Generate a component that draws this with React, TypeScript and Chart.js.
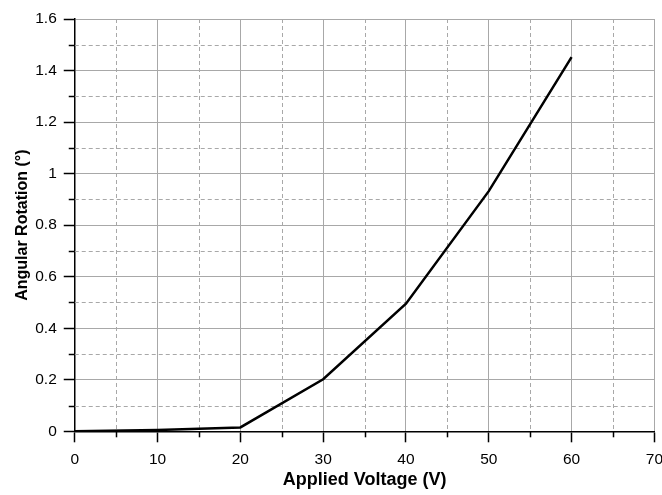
import React, { useEffect, useRef } from "react";
import { Chart, registerables } from "chart.js";

Chart.register(...registerables);

const voltages = [0, 10, 20, 30, 40, 50, 60];
const rotations = [0, 0.005, 0.015, 0.202, 0.495, 0.932, 1.452];

const xMin = 0;
const xMax = 70;
const xStep = 5;
const yMin = 0;
const yMax = 1.6;
const yStep = 0.1;

const xTitle = "Applied Voltage (V)";
const yTitle = "Angular Rotation (°)";

const FONT = "'Liberation Sans', Arial, Helvetica, sans-serif";
const GRID = "#a8a8a8";

const isMajorX = (v: number) => Math.round(v) % 10 === 0;
const isMajorY = (v: number) => Math.round(v * 10) % 2 === 0;

const minorPlugin = {
  id: "minorGrid",
  beforeDatasetsDraw(chart: any) {
    const { ctx, chartArea, scales } = chart;
    const xs = scales.x;
    const ys = scales.y;
    ctx.save();
    ctx.strokeStyle = GRID;
    ctx.lineWidth = 1;
    ctx.setLineDash([4, 3]);
    xs.ticks.forEach((t: any) => {
      if (isMajorX(t.value)) return;
      const px = Math.round(xs.getPixelForValue(t.value)) + 0.5;
      ctx.beginPath();
      ctx.moveTo(px, chartArea.top);
      ctx.lineTo(px, chartArea.bottom);
      ctx.stroke();
    });
    ys.ticks.forEach((t: any) => {
      if (isMajorY(t.value)) return;
      const py = Math.round(ys.getPixelForValue(t.value)) + 0.5;
      ctx.beginPath();
      ctx.moveTo(chartArea.left, py);
      ctx.lineTo(chartArea.right, py);
      ctx.stroke();
    });
    ctx.setLineDash([]);
    ctx.strokeStyle = "#000";
    ctx.lineWidth = 1.5;
    xs.ticks.forEach((t: any) => {
      if (isMajorX(t.value)) return;
      const px = Math.round(xs.getPixelForValue(t.value)) + 0.5;
      ctx.beginPath();
      ctx.moveTo(px, chartArea.bottom);
      ctx.lineTo(px, chartArea.bottom + 6);
      ctx.stroke();
    });
    ys.ticks.forEach((t: any) => {
      if (isMajorY(t.value)) return;
      const py = Math.round(ys.getPixelForValue(t.value)) + 0.5;
      ctx.beginPath();
      ctx.moveTo(chartArea.left - 6, py);
      ctx.lineTo(chartArea.left, py);
      ctx.stroke();
    });
    ctx.restore();
  },
};

export default function App() {
  const ref = useRef<HTMLCanvasElement>(null);
  useEffect(() => {
    if (!ref.current) return;
    const chart = new Chart(ref.current, {
      type: "line",
      data: {
        datasets: [
          {
            data: voltages.map((v, i) => ({ x: v, y: rotations[i] })),
            borderColor: "#000",
            borderWidth: 2.5,
            pointRadius: 0,
            tension: 0,
            fill: false,
          },
        ],
      },
      options: {
        animation: false,
        responsive: false,
        maintainAspectRatio: false,
        layout: { padding: { top: 19, right: 0, left: 13, bottom: 4 } },
        plugins: { legend: { display: false }, tooltip: { enabled: false } },
        scales: {
          x: {
            type: "linear",
            min: xMin,
            max: xMax,
            ticks: {
              stepSize: xStep,
              autoSkip: false,
              maxRotation: 0,
              color: "#000",
              font: { family: FONT, size: 15.5 },
              padding: 8,
              callback: (v: any) => (isMajorX(v) ? String(v) : ""),
            },
            grid: {
              color: (c: any) => (c.tick && isMajorX(c.tick.value) ? GRID : "rgba(0,0,0,0)"),
              lineWidth: 1,
              tickLength: 11,
              tickColor: (c: any) => (c.tick && isMajorX(c.tick.value) ? "#000" : "rgba(0,0,0,0)"),
              tickWidth: 1.5,
            },
            border: { color: "#000", width: 1.5 },
            title: {
              display: true,
              text: xTitle,
              color: "#000",
              font: { family: FONT, size: 18, weight: "bold" },
              padding: { top: -7.5, bottom: 0 },
            },
          },
          y: {
            type: "linear",
            min: yMin,
            max: yMax,
            ticks: {
              stepSize: yStep,
              autoSkip: false,
              color: "#000",
              font: { family: FONT, size: 15.5 },
              padding: 7,
              callback: (v: any) => {
                const n = Math.round(v * 10) / 10;
                return isMajorY(n) ? String(n) : "";
              },
            },
            grid: {
              color: (c: any) => (c.tick && isMajorY(c.tick.value) ? GRID : "rgba(0,0,0,0)"),
              lineWidth: 1,
              tickLength: 11,
              tickColor: (c: any) => (c.tick && isMajorY(c.tick.value) ? "#000" : "rgba(0,0,0,0)"),
              tickWidth: 1.5,
            },
            border: { color: "#000", width: 1.5 },
            title: {
              display: true,
              text: yTitle,
              color: "#000",
              font: { family: FONT, size: 16, weight: "bold" },
              padding: { top: 0, bottom: -4 },
            },
          },
        },
      },
      plugins: [minorPlugin],
    } as any);
    return () => chart.destroy();
  }, []);
  return (
    <div style={{ position: "fixed", left: 0, top: 0, width: 662, height: 495, overflow: "hidden", background: "#fff" }}>
      <canvas ref={ref} width={671} height={495} style={{ width: 671, height: 495 }} />
    </div>
  );
}
